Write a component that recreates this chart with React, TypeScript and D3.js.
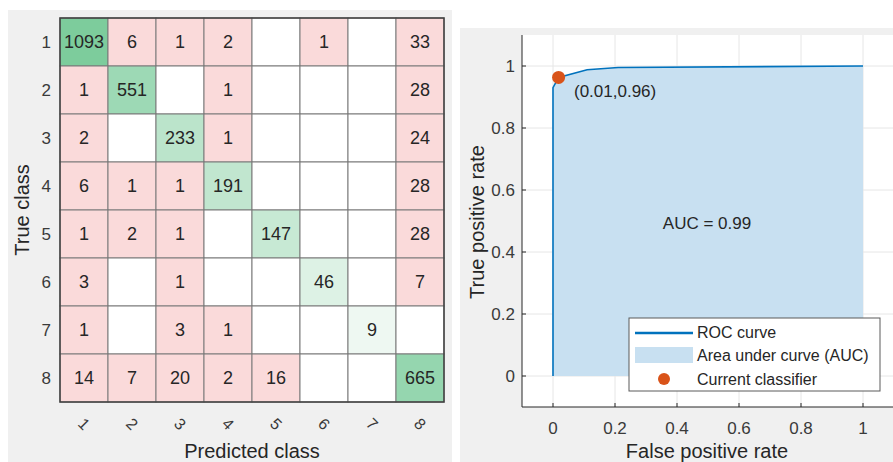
import React from "react";
import * as d3 from "d3";

const classes = ["1", "2", "3", "4", "5", "6", "7", "8"];
// rows = true class, cols = predicted class; 0 = empty cell
const matrix: number[][] = [
  [1093, 6, 1, 2, 0, 1, 0, 33],
  [1, 551, 0, 1, 0, 0, 0, 28],
  [2, 0, 233, 1, 0, 0, 0, 24],
  [6, 1, 1, 191, 0, 0, 0, 28],
  [1, 2, 1, 0, 147, 0, 0, 28],
  [3, 0, 1, 0, 0, 46, 0, 7],
  [1, 0, 3, 1, 0, 0, 9, 0],
  [14, 7, 20, 2, 16, 0, 0, 665],
];

const rocFPR = [0, 0, 0.018, 0.11, 0.21, 1];
const rocTPR = [0, 0.93, 0.963, 0.988, 0.995, 1];
const currentPoint = { fpr: 0.018, tpr: 0.963, label: "(0.01,0.96)" };
const aucLabel = "AUC = 0.99";
const rocTicks = [0, 0.2, 0.4, 0.6, 0.8, 1];
const legendLabels = ["ROC curve", "Area under curve (AUC)", "Current classifier"];

const FONT = "'Liberation Sans', Arial, Helvetica, sans-serif";
const TXT = "#262626";
const TICK = "#3a3a3a";
const BLUE = "#0072bd";
const ORANGE = "#d95319";
const AREA = "#c8e0f1";

export default function App() {
  // ---- confusion matrix ----
  const gx = d3.scaleBand<string>().domain(classes).range([60, 444]);
  const gy = d3.scaleBand<string>().domain(classes).range([18, 402]);
  const maxDiag = d3.max(matrix.map((r, i) => r[i])) as number;
  const diagColor = d3
    .scalePow()
    .exponent(0.42)
    .domain([0, maxDiag])
    .range(["#ffffff", "#7dcc9c"] as any);
  const offColor = "#fadada";

  // ---- ROC ----
  const xs = d3.scaleLinear().domain([-0.1, 1.1]).range([522, 894]);
  const ys = d3.scaleLinear().domain([-0.1, 1.1]).range([407, 35]);
  const pts = rocFPR.map((f, i) => [f, rocTPR[i]] as [number, number]);
  const line = d3
    .line<[number, number]>()
    .x((d) => xs(d[0]))
    .y((d) => ys(d[1]));
  const area = d3
    .area<[number, number]>()
    .x((d) => xs(d[0]))
    .y0(ys(0))
    .y1((d) => ys(d[1]));

  return (
    <svg
      width={893}
      height={462}
      style={{ position: "absolute", left: 0, top: 0, display: "block", background: "#fff" }}
      fontFamily={FONT}
    >
      {/* panel backgrounds */}
      <rect x={8} y={10} width={444} height={452} fill="#f0f0f0" />
      <rect x={460} y={28} width={433} height={434} fill="#f0f0f0" />

      {/* ===== Confusion matrix ===== */}
      <g>
        {matrix.map((row, i) =>
          row.map((v, j) => {
            const fill = v === 0 ? "#ffffff" : i === j ? diagColor(v) : offColor;
            return (
              <rect
                key={`c${i}-${j}`}
                x={gx(classes[j])}
                y={gy(classes[i])}
                width={gx.bandwidth()}
                height={gy.bandwidth()}
                fill={fill as string}
                stroke="#7a7a7a"
                strokeWidth={1}
              />
            );
          })
        )}
        <rect x={60} y={18} width={384} height={384} fill="none" stroke="#404040" strokeWidth={1.5} />
        {matrix.map((row, i) =>
          row.map((v, j) =>
            v === 0 ? null : (
              <text
                key={`t${i}-${j}`}
                x={(gx(classes[j]) as number) + gx.bandwidth() / 2}
                y={(gy(classes[i]) as number) + gy.bandwidth() / 2}
                textAnchor="middle"
                dominantBaseline="central"
                fontSize={18}
                fill={TXT}
              >
                {v}
              </text>
            )
          )
        )}
        {classes.map((c) => (
          <text
            key={`r${c}`}
            x={51}
            y={(gy(c) as number) + gy.bandwidth() / 2}
            textAnchor="end"
            dominantBaseline="central"
            fontSize={17}
            fill={TICK}
          >
            {c}
          </text>
        ))}
        {classes.map((c) => {
          const cx = (gx(c) as number) + gx.bandwidth() / 2;
          const cy = 424;
          return (
            <text
              key={`x${c}`}
              x={cx}
              y={cy}
              transform={`rotate(45 ${cx} ${cy})`}
              textAnchor="middle"
              dominantBaseline="central"
              fontSize={16}
              fill={TICK}
            >
              {c}
            </text>
          );
        })}
        <text x={252} y={451} textAnchor="middle" dominantBaseline="central" fontSize={20} fill={TXT}>
          Predicted class
        </text>
        <text
          x={22}
          y={210}
          transform="rotate(-90 22 210)"
          textAnchor="middle"
          dominantBaseline="central"
          fontSize={20}
          fill={TXT}
        >
          True class
        </text>
      </g>

      {/* ===== ROC ===== */}
      <g>
        <rect x={522} y={35} width={371} height={372} fill="#ffffff" />
        {rocTicks.map((t) => (
          <g key={`g${t}`}>
            <line x1={xs(t)} x2={xs(t)} y1={35} y2={407} stroke="#e6e6e6" strokeWidth={1} />
            <line x1={522} x2={893} y1={ys(t)} y2={ys(t)} stroke="#e6e6e6" strokeWidth={1} />
          </g>
        ))}
        <path d={area(pts) as string} fill={AREA} />
        <path d={line(pts) as string} fill="none" stroke={BLUE} strokeWidth={1.6} />
        <circle cx={xs(currentPoint.fpr)} cy={ys(currentPoint.tpr)} r={6.5} fill={ORANGE} />
        <text x={574} y={91} dominantBaseline="central" fontSize={17} fill={TXT}>
          {currentPoint.label}
        </text>
        <text x={707} y={223} textAnchor="middle" dominantBaseline="central" fontSize={17} fill={TXT}>
          {aucLabel}
        </text>

        {/* axes */}
        <line x1={522} x2={522} y1={35} y2={407} stroke="#262626" strokeWidth={1} />
        <line x1={522} x2={893} y1={407} y2={407} stroke="#262626" strokeWidth={1} />
        {rocTicks.map((t) => (
          <g key={`t${t}`}>
            <line x1={xs(t)} x2={xs(t)} y1={407} y2={403} stroke="#262626" />
            <line x1={522} x2={526} y1={ys(t)} y2={ys(t)} stroke="#262626" />
            <text x={xs(t)} y={428} textAnchor="middle" dominantBaseline="central" fontSize={17} fill={TICK}>
              {d3.format("~g")(t)}
            </text>
            <text x={515} y={ys(t)} textAnchor="end" dominantBaseline="central" fontSize={17} fill={TICK}>
              {d3.format("~g")(t)}
            </text>
          </g>
        ))}
        <text x={707} y={451} textAnchor="middle" dominantBaseline="central" fontSize={20} fill={TXT}>
          False positive rate
        </text>
        <text
          x={477}
          y={222}
          transform="rotate(-90 477 222)"
          textAnchor="middle"
          dominantBaseline="central"
          fontSize={20}
          fill={TXT}
        >
          True positive rate
        </text>

        {/* legend */}
        <rect x={629} y={318} width={251} height={73} fill="#ffffff" stroke="#5a5a5a" strokeWidth={1} />
        <line x1={635} x2={693} y1={333} y2={333} stroke={BLUE} strokeWidth={2.5} />
        <rect x={635} y={347} width={58} height={16} fill={AREA} />
        <circle cx={664} cy={379} r={6} fill={ORANGE} />
        {legendLabels.map((l, i) => (
          <text key={l} x={697} y={332 + i * 23.5} dominantBaseline="central" fontSize={16} fill={TXT}>
            {l}
          </text>
        ))}
      </g>
    </svg>
  );
}
